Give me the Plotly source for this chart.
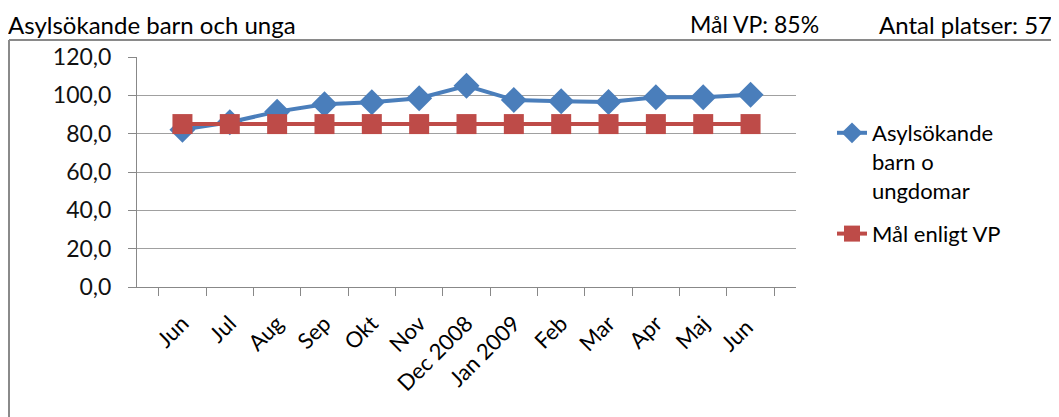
import plotly.graph_objects as go

months = ["Jun", "Jul", "Aug", "Sep", "Okt", "Nov", "Dec 2008", "Jan 2009",
          "Feb", "Mar", "Apr", "Maj", "Jun "]
asyl_values = [82.1, 86.0, 91.5, 95.3, 96.4, 98.5, 105.0, 97.6, 96.9, 96.5, 99.0, 99.0, 100.3]
goal_values = [85.0] * 13
y_ticks = [0, 20, 40, 60, 80, 100, 120]

# page body has an 8px margin; figure is sized to fill the rest
OFF = 8
W, H = 1059 - OFF, 417 - OFF
L, R, T, B = 137, 796, 57, 287  # plot area in reference (window) pixels

def px(x):
    return (x - L) / (R - L)

def py(y):
    return (B - y) / (B - T)

font_main = "Lato, 'Open Sans', sans-serif"

fig = go.Figure()
fig.add_trace(go.Scatter(
    x=months, y=asyl_values, mode="lines+markers",
    name="Asylsökande<br>barn o<br>ungdomar", legendgroup="a",
    line=dict(color="#4a7ebb", width=4),
    marker=dict(symbol="diamond", size=20, color="#4a7ebb"),
))
fig.add_trace(go.Scatter(
    x=months, y=goal_values, mode="lines+markers",
    name="Mål enligt VP", legendgroup="b",
    line=dict(color="#be4b48", width=4),
    marker=dict(symbol="square", size=20, color="#be4b48"),
))

fig.update_layout(
    width=W, height=H,
    margin=dict(l=L - OFF, r=1059 - R, t=T - OFF, b=417 - B, autoexpand=False),
    paper_bgcolor="white", plot_bgcolor="white",
    separators=", ",
    showlegend=True,
    legend=dict(x=px(832), y=py(112), xanchor="left", yanchor="top",
                valign="top",
                font=dict(family=font_main, size=22, color="#000"),
                bgcolor="rgba(0,0,0,0)", tracegroupgap=12),
    font=dict(family=font_main, color="#000"),
    xaxis=dict(type="category", tickson="boundaries", ticks="outside", ticklen=8,
               tickcolor="#888", tickangle=-45, showgrid=False,
               showline=True, linecolor="#888", linewidth=1,
               ticklabelstandoff=14,
               tickfont=dict(family=font_main, size=22, color="#000")),
    yaxis=dict(range=[0, 120], tickvals=y_ticks, tickformat=".1f",
               ticks="outside", ticklen=8, tickcolor="#888",
               showgrid=True, gridcolor="#a0a0a0", gridwidth=1,
               showline=True, linecolor="#888", linewidth=1, zeroline=False,
               ticklabelstandoff=12,
               tickfont=dict(family=font_main, size=23, color="#111")),
    shapes=[
        dict(type="line", xref="paper", yref="paper", x0=px(9), x1=px(1062),
             y0=py(40), y1=py(40), line=dict(color="#8a8a8a", width=2)),
        dict(type="line", xref="paper", yref="paper", x0=px(9), x1=px(9),
             y0=py(40), y1=py(420), line=dict(color="#8a8a8a", width=2)),
    ],
    annotations=[
        dict(text="Asylsökande barn och unga", xref="paper", yref="paper",
             x=px(6), y=py(8), xanchor="left", yanchor="top", showarrow=False,
             font=dict(family=font_main, size=24, color="#000")),
        dict(text="Mål VP: 85%", xref="paper", yref="paper",
             x=px(821), y=py(8), xanchor="right", yanchor="top", showarrow=False,
             font=dict(family=font_main, size=23, color="#000")),
        dict(text="Antal platser: 57", xref="paper", yref="paper",
             x=px(1054), y=py(8), xanchor="right", yanchor="top", showarrow=False,
             font=dict(family=font_main, size=24, color="#000")),
    ],
)

fig.write_html("out.html")
